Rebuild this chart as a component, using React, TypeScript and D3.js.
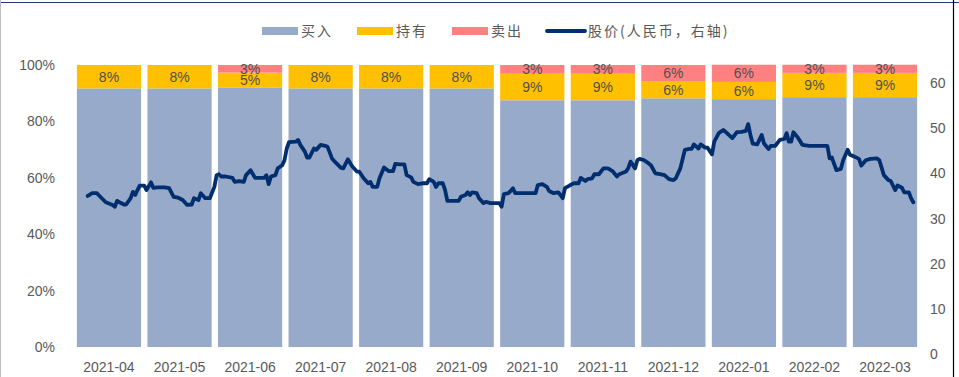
import React from "react";
import * as d3 from "d3";

const categories = ["2021-04", "2021-05", "2021-06", "2021-07", "2021-08", "2021-09", "2021-10", "2021-11", "2021-12", "2022-01", "2022-02", "2022-03"];
const buyPct = [91.7, 91.7, 91.9, 91.7, 91.7, 91.7, 87.5, 87.5, 88.2, 87.9, 88.6, 88.6];
const holdPct = [8.3, 8.3, 5.4, 8.3, 8.3, 8.3, 9.4, 9.4, 5.9, 6.1, 8.6, 8.6];
const sellPct = [0, 0, 2.7, 0, 0, 0, 3.1, 3.1, 5.9, 6.1, 2.9, 2.9];

const leftTicks = [0, 20, 40, 60, 80, 100];
const rightTicks = [0, 10, 20, 30, 40, 50, 60];

// [days since 2021-04-01, price]
const stockPrice: [number, number][] = [
  [0, 35.0], [2, 35.6], [4, 35.6], [6, 34.6], [8, 33.6], [11, 33.0], [12, 32.6], [13, 33.9], [14, 33.6], [16, 33.1],
  [17, 33.1], [19, 34.5], [20, 35.9], [21, 35.2], [22, 36.3], [23, 37.3], [25, 37.3], [26, 36.3], [28, 38.0], [29, 36.8],
  [31, 36.9], [34, 36.9], [36, 36.7], [38, 34.8], [40, 34.6], [42, 34.1], [44, 33.0], [46, 33.1], [47, 34.5], [49, 34.1],
  [50, 35.6], [52, 34.5], [54, 34.5], [56, 37.0], [57, 39.6], [58, 39.8], [59, 39.3], [61, 39.3], [64, 39.0], [65, 38.1],
  [67, 38.3], [69, 38.1], [70, 39.6], [72, 40.7], [74, 39.0], [76, 39.0], [78, 39.0], [79, 39.6], [80, 37.6], [81, 39.3],
  [83, 39.6], [84, 41.1], [86, 41.8], [87, 42.9], [88, 45.5], [89, 46.9], [92, 47.0], [93, 47.4], [94, 46.3], [96, 44.8],
  [97, 43.5], [98, 43.5], [100, 45.5], [101, 45.2], [103, 46.3], [105, 46.1], [106, 45.9], [108, 43.3], [109, 42.7], [112, 41.2],
  [113, 41.1], [115, 43.1], [117, 41.5], [119, 40.4],
  [120, 40.4], [122, 38.9], [124, 37.8], [125, 38.1], [126, 37.0], [128, 37.0], [129, 38.9], [131, 41.3], [133, 40.5], [135, 40.5],
  [136, 42.1], [138, 42.0], [140, 42.0], [141, 39.6], [143, 39.1], [144, 38.1], [146, 37.6], [148, 37.8], [150, 37.8], [151, 38.7],
  [153, 38.1], [154, 37.0], [155, 37.8], [157, 37.8], [158, 36.3], [159, 33.9], [161, 33.9], [164, 33.9], [165, 34.8], [167, 35.2],
  [168, 35.8], [169, 35.2], [170, 35.8], [172, 35.6], [173, 34.5], [175, 33.4], [176, 33.7], [178, 33.4], [180, 33.4], [182, 33.4],
  [183, 32.6], [184, 35.4], [186, 35.6], [187, 36.1], [188, 36.7], [189, 35.6], [192, 35.6], [195, 35.6], [198, 35.6], [199, 37.4],
  [201, 37.6], [203, 37.0], [204, 36.1], [206, 35.6], [208, 35.8], [209, 35.2], [210, 34.5], [211, 36.7], [213, 37.3], [215, 37.8],
  [217, 37.8], [218, 39.0], [220, 38.3], [221, 38.7], [223, 38.9], [224, 39.8], [226, 39.8], [228, 41.1], [230, 41.1], [232, 40.5],
  [234, 39.3], [235, 39.8], [238, 40.4], [239, 41.2], [240, 42.6], [242, 41.1], [243, 42.9], [244, 43.2],
  [246, 42.9], [248, 42.2], [249, 41.8], [251, 40.0], [253, 39.8], [255, 39.6], [257, 38.7], [259, 38.5], [260, 38.9], [262, 41.1],
  [264, 45.2], [266, 45.4], [267, 45.4], [268, 46.4], [270, 45.5], [271, 46.4], [273, 45.7], [274, 45.7], [276, 44.2], [277, 47.0],
  [279, 48.9], [281, 49.6], [282, 49.2], [285, 47.8], [287, 49.1], [289, 49.2], [291, 49.4], [292, 50.9], [293, 48.5], [294, 46.6],
  [296, 46.4], [298, 48.5], [299, 46.6], [301, 45.4], [302, 46.1], [304, 46.1], [306, 47.4], [308, 47.6], [309, 48.9], [310, 47.0],
  [311, 47.0], [312, 49.1], [314, 47.9], [316, 46.3], [319, 46.1], [323, 46.1], [327, 46.1], [328, 43.3], [329, 43.5], [331, 40.7],
  [333, 41.0], [334, 42.9], [336, 45.2], [337, 44.1], [339, 43.7], [341, 43.2], [342, 41.7], [344, 42.9], [346, 43.2], [349, 43.3],
  [350, 42.9], [352, 39.6], [354, 38.5], [355, 38.3], [357, 36.3], [358, 37.3], [360, 36.8], [361, 35.8], [363, 35.8], [364, 34.5],
  [365, 33.6],
];

const legendItems = [
  { label: "买入", kind: "rect", color: "#98AAC9" },
  { label: "持有", kind: "rect", color: "#FFC000" },
  { label: "卖出", kind: "rect", color: "#FF8080" },
  { label: "股价(人民币，右轴)", kind: "line", color: "#002E6E" },
];

const W = 959;
const H = 377;
const BUY = "#98AAC9";
const HOLD = "#FFC000";
const SELL = "#FF8080";
const LINE = "#002E6E";
const TXT = "#595959";
const FONT = "'Liberation Sans', Arial, sans-serif";
const CJK = "'Noto Sans CJK SC', sans-serif";

export default function App() {
  const x = d3.scaleBand<string>().domain(categories).range([73.7, 920.3]).paddingInner(0.09).paddingOuter(0.045);
  const yL = d3.scaleLinear().domain([0, 100]).range([347, 65]);
  const yR = d3.scaleLinear().domain([0, 60]).range([354, 83]);
  const xDay = d3.scaleLinear().domain(d3.extent(stockPrice, (d) => d[0]) as [number, number]).range([87.7, 913.3]);
  const line = d3.line<[number, number]>().x((d) => xDay(d[0])).y((d) => yR(d[1])).curve(d3.curveLinear);

  const stacks = categories.map((c, i) => {
    const b = buyPct[i];
    const h = holdPct[i];
    const s = sellPct[i];
    return { c, segs: [
      { y0: 0, y1: b, color: BUY, v: b, label: false },
      { y0: b, y1: b + h, color: HOLD, v: h, label: true },
      { y0: b + h, y1: b + h + s, color: SELL, v: s, label: true },
    ] };
  });

  const legendX = [262, 357, 452, 547];

  return (
    <svg width={W} height={H} style={{ position: "absolute", left: 0, top: 0, background: "#fff" }} xmlns="http://www.w3.org/2000/svg">
      <rect x={0} y={0} width={W} height={H} fill="#fff" />
      <line x1={0} x2={W} y1={2.5} y2={2.5} stroke="#1F3A6E" strokeWidth={1} />
      <line x1={0.5} x2={0.5} y1={0} y2={H} stroke="#BFBFBF" strokeWidth={1} />
      <line x1={953.5} x2={953.5} y1={0} y2={H} stroke="#000" strokeWidth={1.2} />

      {/* legend */}
      {legendItems.map((it, i) => (
        <g key={it.label} transform={`translate(${legendX[i]},31)`}>
          {it.kind === "rect" ? (
            <rect x={0} y={-4} width={36} height={8} fill={it.color} />
          ) : (
            <line x1={0} x2={38} y1={0} y2={0} stroke={it.color} strokeWidth={3.8} strokeLinecap="round" />
          )}
          <text x={it.kind === "rect" ? 39 : 41} y={0} dy="0.36em" fontFamily={CJK} fontSize={14} fill={TXT} letterSpacing={2}>
            {it.label}
          </text>
        </g>
      ))}

      {/* bars */}
      {stacks.map((st) => (
        <g key={st.c}>
          {st.segs.map((s, j) =>
            s.v > 0 ? (
              <rect key={j} x={x(st.c)} y={yL(s.y1)} width={x.bandwidth()} height={yL(s.y0) - yL(s.y1)} fill={s.color} />
            ) : null
          )}
        </g>
      ))}
      {stacks.map((st) => (
        <g key={st.c + "l"}>
          {st.segs.map((s, j) =>
            s.label && s.v > 0 ? (
              <text key={j} x={(x(st.c) as number) + x.bandwidth() / 2} y={(yL(s.y0) + yL(s.y1)) / 2} dy="0.36em" textAnchor="middle" fontFamily={FONT} fontSize={14} fill="#505050">
                {`${Math.round(s.v)}%`}
              </text>
            ) : null
          )}
        </g>
      ))}

      {/* price line */}
      <path d={line(stockPrice) || ""} fill="none" stroke={LINE} strokeWidth={3.8} strokeLinejoin="round" strokeLinecap="round" />

      {/* left axis */}
      {leftTicks.map((t) => (
        <text key={t} x={55} y={yL(t)} dy="0.36em" textAnchor="end" fontFamily={FONT} fontSize={14} fill={TXT}>
          {`${t}%`}
        </text>
      ))}
      {/* right axis */}
      {rightTicks.map((t) => (
        <text key={t} x={930} y={yR(t)} dy="0.36em" textAnchor="start" fontFamily={FONT} fontSize={14} fill={TXT}>
          {t}
        </text>
      ))}
      {/* x axis */}
      {categories.map((c) => (
        <text key={c} x={(x(c) as number) + x.bandwidth() / 2} y={367} dy="0.36em" textAnchor="middle" fontFamily={FONT} fontSize={14} fill={TXT}>
          {c}
        </text>
      ))}
    </svg>
  );
}
